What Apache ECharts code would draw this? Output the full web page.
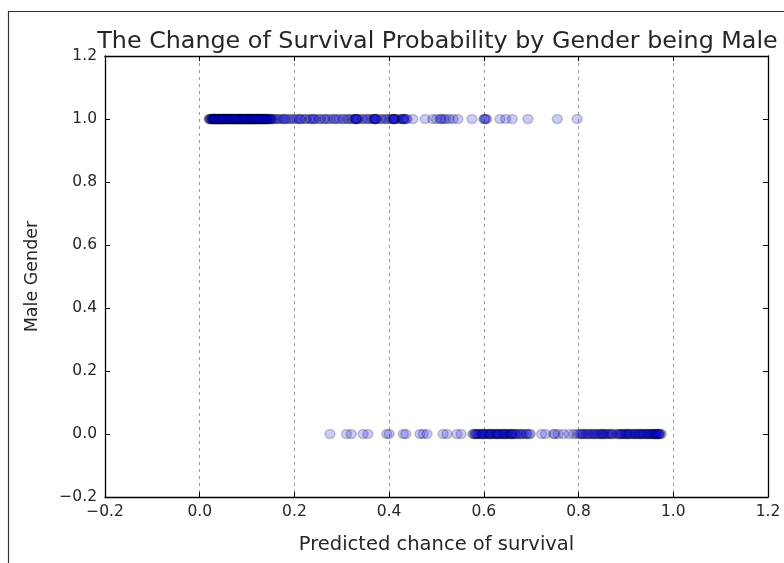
<!DOCTYPE html>
<html>
<head>
<meta charset="utf-8">
<script src="https://cdn.jsdelivr.net/npm/echarts@6/dist/echarts.min.js"></script>
<style>html,body{margin:0;padding:0;background:#fff}#c{width:784px;height:563px}</style>
</head>
<body>
<div id="c"></div>
<script>
var titleText = 'The Change of Survival Probability by Gender being Male';
var xAxisName = 'Predicted chance of survival';
var yAxisName = 'Male Gender';
var tickValues = [-0.2, 0.0, 0.2, 0.4, 0.6, 0.8, 1.0, 1.2];

// predicted survival for male passengers (plotted at y = 1)
var maleProb = [
  0.020,0.022,0.025,0.028,0.030,0.030,0.033,0.035,0.038,0.040,0.040,0.043,0.045,0.048,0.050,0.050,
  0.053,0.055,0.058,0.060,0.060,0.063,0.065,0.068,0.070,0.070,0.073,0.075,0.078,0.080,0.080,0.083,
  0.085,0.088,0.090,0.090,0.093,0.095,0.098,0.100,0.100,0.103,0.105,0.108,0.110,0.110,0.113,0.115,
  0.118,0.120,0.120,0.123,0.125,0.128,0.130,0.130,0.133,0.135,0.138,0.140,0.140,0.145,0.150,0.155,
  0.021,0.024,0.026,0.029,0.031,0.033,0.034,0.036,0.038,0.041,0.043,0.044,0.046,0.049,0.051,0.052,
  0.054,0.057,0.059,0.061,0.062,0.064,0.067,0.069,0.071,0.072,0.074,0.077,0.079,0.081,0.083,0.084,
  0.086,0.088,0.091,0.093,0.094,0.096,0.099,0.101,0.103,0.104,0.106,0.109,0.111,0.112,0.114,0.117,
  0.119,0.121,0.123,0.124,0.126,0.129,0.131,0.133,0.136,0.139,0.142,0.146,0.149,0.152,
  0.027,0.032,0.037,0.042,0.047,0.056,0.066,0.076,0.087,0.097,0.107,0.116,0.127,0.137,0.143,0.148,
  0.030,0.045,0.060,0.075,0.090,0.105,0.120,0.135,0.050,0.070,0.095,0.115,
  0.158,0.162,0.165,0.170,0.175,0.178,0.185,0.190,0.195,0.200,0.205,0.212,0.215,0.222,0.225,0.232,
  0.235,0.240,0.245,0.252,0.255,0.262,0.265,0.270,0.275,0.282,0.285,0.290,0.295,0.302,0.305,0.312,
  0.315,0.320,0.325,0.328,0.330,0.333,0.335,0.342,0.345,0.352,0.355,0.360,0.365,0.368,0.370,0.372,
  0.375,0.382,0.385,0.392,0.395,0.400,0.405,0.408,0.410,0.412,0.415,0.420,0.425,0.428,0.430,0.432,
  0.435,0.438,0.180,0.210,0.240,0.330,0.370,0.410,0.430,0.370,0.410,0.330,
  0.450,0.476,0.492,0.500,0.508,0.515,0.520,0.527,0.535,0.545,0.510,0.575,0.600,0.603,0.606,0.602,
  0.634,0.646,0.660,0.693,0.755,0.797
];

// predicted survival for female passengers (plotted at y = 0)
var femaleProb = [
  0.275,0.310,0.320,0.345,0.355,0.395,0.400,0.430,0.435,0.465,0.472,0.480,0.514,0.522,0.543,0.552,
  0.577,0.582,0.587,0.592,0.597,0.602,0.607,0.612,0.617,0.622,0.627,0.632,0.637,0.642,0.647,0.652,
  0.590,0.605,0.620,0.640,0.650,0.579,0.585,0.595,0.600,0.610,0.615,0.625,0.630,0.635,0.645,0.655,
  0.583,0.598,0.613,0.628,0.643,0.658,
  0.657,0.662,0.670,0.677,0.684,0.690,0.698,0.660,0.690,0.665,0.675,0.680,0.695,0.668,
  0.722,0.730,0.747,0.757,0.768,0.780,0.790,0.797,0.750,
  0.802,0.808,0.814,0.820,0.826,0.832,0.838,0.844,0.850,0.856,0.862,0.868,0.873,0.810,0.830,0.850,
  0.805,0.817,0.823,0.835,0.841,0.847,0.853,0.859,0.865,0.870,
  0.880,0.886,0.892,0.898,0.904,0.910,0.916,0.922,0.928,0.934,0.940,0.946,0.952,0.958,0.964,0.970,
  0.890,0.905,0.920,0.935,0.950,0.965,0.900,0.930,0.960,0.970,0.975,
  0.883,0.895,0.901,0.913,0.919,0.925,0.931,0.943,0.949,0.955,0.961,0.967,0.972,0.888,0.908,0.938,
  0.945,0.956,0.962,0.968
];

var maleData = maleProb.map(function (v) { return [v, 1]; });
var femaleData = femaleProb.map(function (v) { return [v, 0]; });

function fmt(v) {
  var s = Math.abs(v).toFixed(1);
  return v < -1e-9 ? '\u2212' + s : s;
}

var textColor = '#262626';
var font = 'DejaVu Sans';

var chart = echarts.init(document.getElementById('c'), null, { renderer: 'canvas' });

var markerStyle = { color: '#0000f0', opacity: 0.2, borderColor: '#000000', borderWidth: 1.5 };

var baseAxis = {
  type: 'value', min: -0.2, max: 1.2, interval: 0.2,
  axisLine: { show: true, onZero: false, lineStyle: { color: '#000', width: 1.3 } },
  axisTick: { show: true, inside: true, length: 5, lineStyle: { color: '#000', width: 1 } },
  splitLine: { show: false }
};

chart.setOption({
  animation: false,
  backgroundColor: '#ffffff',
  title: {
    text: titleText,
    left: 432.5, top: 25, textAlign: 'center',
    textStyle: { fontFamily: font, fontSize: 23.8, fontWeight: 'normal', color: textColor }
  },
  grid: { left: 105, right: 16, top: 56, bottom: 66, containLabel: false },
  xAxis: [
    Object.assign({}, baseAxis, {
      position: 'bottom',
      name: xAxisName, nameLocation: 'middle', nameGap: 38,
      nameTextStyle: { fontFamily: font, fontSize: 19.5, color: textColor },
      axisLabel: { show: true, margin: 7, fontFamily: font, fontSize: 15.5, color: textColor, formatter: fmt },
      splitLine: { show: true, lineStyle: { color: '#999999', type: [3, 4], width: 1 } }
    }),
    Object.assign({}, baseAxis, { position: 'top', axisLabel: { show: false } })
  ],
  yAxis: [
    Object.assign({}, baseAxis, {
      position: 'left',
      name: yAxisName, nameLocation: 'middle', nameGap: 64,
      nameTextStyle: { fontFamily: font, fontSize: 17.5, color: textColor },
      axisLabel: { show: true, margin: 8, fontFamily: font, fontSize: 15.5, color: textColor, formatter: fmt }
    }),
    Object.assign({}, baseAxis, { position: 'right', axisLabel: { show: false } })
  ],
  graphic: [
    { type: 'line', shape: { x1: 8, y1: 11.5, x2: 784, y2: 11.5 }, style: { stroke: '#333', lineWidth: 1.2 } },
    { type: 'line', shape: { x1: 8.5, y1: 11, x2: 8.5, y2: 563 }, style: { stroke: '#333', lineWidth: 1.2 } }
  ],
  series: [
    { type: 'scatter', name: 'male', data: maleData, symbol: 'circle', symbolSize: [10, 9], itemStyle: markerStyle, xAxisIndex: 0, yAxisIndex: 0 },
    { type: 'scatter', name: 'female', data: femaleData, symbol: 'circle', symbolSize: [10, 9], itemStyle: markerStyle, xAxisIndex: 0, yAxisIndex: 0 }
  ]
});
</script>
</body>
</html>
